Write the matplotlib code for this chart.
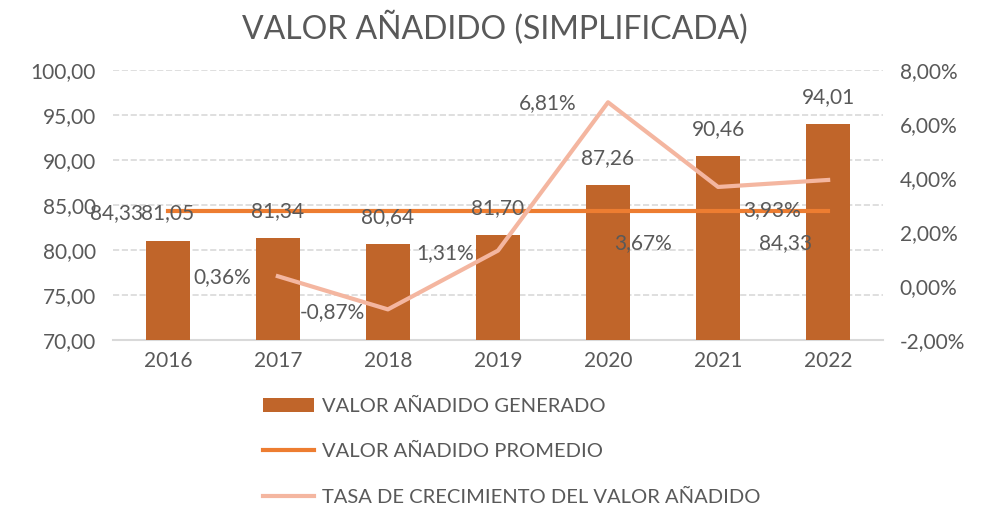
import matplotlib.pyplot as plt
from matplotlib.ticker import FuncFormatter
import numpy as np

plt.rcParams['font.family'] = ['Lato', 'DejaVu Sans']

years = ['2016', '2017', '2018', '2019', '2020', '2021', '2022']
valor = [81.05, 81.34, 80.64, 81.70, 87.26, 90.46, 94.01]
promedio = [84.33] * 7
tasa = [None, 0.36, -0.87, 1.31, 6.81, 3.67, 3.93]

gray = '#595959'
c_bar = '#C0652A'
c_avg = '#ED7D31'
c_rate = '#F4B6A0'

def coma(v, dec=2):
    return f'{v:.{dec}f}'.replace('.', ',')

fig = plt.figure(figsize=(9.89, 5.05), dpi=100)
ax = fig.add_axes([0.114, 0.327, 0.779, 0.534])
ax2 = ax.twinx()

x = np.arange(len(years))
bars = ax.bar(x, valor, width=0.4, color=c_bar, zorder=3, label='VALOR AÑADIDO GENERADO')
avg_line, = ax.plot(x, promedio, color=c_avg, lw=3, zorder=4, label='VALOR AÑADIDO PROMEDIO')

xr = x[1:]
yr = [t for t in tasa if t is not None]
rate_line, = ax2.plot(xr, yr, color=c_rate, lw=3, zorder=5, label='TASA DE CRECIMIENTO DEL VALOR AÑADIDO')

ax.set_xlim(-0.5, len(years) - 0.5)
ax.set_ylim(70, 100)
ax.set_yticks(np.arange(70, 101, 5))
ax2.set_ylim(-2, 8)
ax2.set_yticks(np.arange(-2, 9, 2))
ax.yaxis.set_major_formatter(FuncFormatter(lambda v, p: coma(v)))
ax2.yaxis.set_major_formatter(FuncFormatter(lambda v, p: coma(v) + '%'))
ax.set_xticks(x)
ax.set_xticklabels(years)

for a in (ax, ax2):
    for s in a.spines.values():
        s.set_visible(False)
    a.tick_params(length=0, labelsize=15, colors=gray, pad=8)
ax.tick_params(axis='y', pad=12)
ax2.tick_params(axis='y', pad=12)
ax.spines['bottom'].set_visible(True)
ax.spines['bottom'].set_color('#D9D9D9')
ax.spines['bottom'].set_linewidth(1.5)
ax.grid(axis='y', color='#D9D9D9', ls='--', lw=1.2, zorder=0)
ax.set_axisbelow(True)
ax2.set_zorder(ax.get_zorder() + 1)
ax2.patch.set_visible(False)

# etiquetas de barras
for xi, v in zip(x, valor):
    ax.annotate(coma(v), (xi, v), xytext=(0, 27), textcoords='offset pixels',
                ha='center', va='center', fontsize=15, color=gray, zorder=6)

# etiquetas del promedio
ax.annotate(coma(promedio[0]), (x[0], promedio[0]), xytext=(-51, -2), textcoords='offset pixels',
            ha='center', va='center', fontsize=15, color=gray)
ax.annotate(coma(promedio[-1]), (x[-1], promedio[-1]), xytext=(-43, -32), textcoords='offset pixels',
            ha='center', va='center', fontsize=15, color=gray)

# etiquetas de la tasa
offs = [(-56, -1), (-56, -3), (-53, -2), (-60, -1), (-75, -56), (-56, -30)]
for xi, t, o in zip(xr, yr, offs):
    ax2.annotate(coma(t) + '%', (xi, t), xytext=o, textcoords='offset pixels',
                 ha='center', va='center', fontsize=15, color=gray)

fig.text(0.5, 0.945, 'VALOR AÑADIDO (SIMPLIFICADA)', ha='center', va='center',
         fontsize=23, color=gray)

fig.legend(handles=[bars, avg_line, rate_line], loc='upper left',
           bbox_to_anchor=(0.258, 0.228), frameon=False, fontsize=14.5,
           labelcolor=gray, handlelength=2.5, handletextpad=0.4,
           labelspacing=1.4, borderaxespad=0)

fig.savefig('out.png', dpi=100)
